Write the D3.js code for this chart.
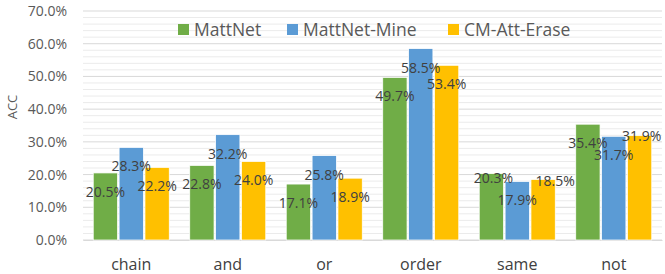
<!DOCTYPE html>
<html>
<head>
<meta charset="utf-8">
<script src="https://cdn.jsdelivr.net/npm/d3@7"></script>
<style>
  body { margin: 0; background: #fff; }
  svg { display: block; font-family: "Open Sans", "Noto Sans", sans-serif; }
</style>
</head>
<body>
<svg id="chart" width="665" height="274"></svg>
<script>
const categories = ["chain", "and", "or", "order", "same", "not"];
const seriesNames = ["MattNet", "MattNet-Mine", "CM-Att-Erase"];
const mattnet = [20.5, 22.8, 17.1, 49.7, 20.3, 35.4];
const mattnetMine = [28.3, 32.2, 25.8, 58.5, 17.9, 31.7];
const cmAttErase = [22.2, 24.0, 18.9, 53.4, 18.5, 31.9];
const yTicks = [0, 10, 20, 30, 40, 50, 60, 70];
const colors = ["#70ad47", "#5b9bd5", "#ffc000"];

const series = [mattnet, mattnetMine, cmAttErase];

function drawChart() {
    const margin = {top: 11, right: 3, bottom: 34, left: 83};
    const svgEl = d3.select("#chart");
    const width = 665 - margin.left - margin.right;
    const height = 274 - margin.top - margin.bottom;

    // a few labels were dragged by hand in the original
    const labelNudge = {
        "same|MattNet": [2, -15],
        "same|CM-Att-Erase": [12, -17],
        "not|CM-Att-Erase": [2, -19]
    };

    const svg = svgEl.append("g")
        .attr("transform", `translate(${margin.left},${margin.top})`);

    const y = d3.scaleLinear().domain([0, 70]).range([height, 0]);

    const x0 = d3.scaleBand()
        .domain(categories)
        .range([0, width])
        .paddingInner(0.18)
        .paddingOuter(0.09);

    const x1 = d3.scaleBand()
        .domain(seriesNames)
        .range([0, x0.bandwidth()])
        .padding(0.06);

    // minor grid every 2%
    svg.append("g")
        .selectAll("line")
        .data(d3.range(0, 71, 2).filter(v => v % 10 !== 0))
        .join("line")
        .attr("x1", 0).attr("x2", width)
        .attr("y1", d => y(d)).attr("y2", d => y(d))
        .attr("stroke", "#ebebeb")
        .attr("stroke-width", 1);

    // major grid
    svg.append("g")
        .selectAll("line")
        .data(yTicks)
        .join("line")
        .attr("x1", 0).attr("x2", width)
        .attr("y1", d => y(d)).attr("y2", d => y(d))
        .attr("stroke", "#d9d9d9")
        .attr("stroke-width", 1);

    const yAxis = svg.append("g")
        .call(d3.axisLeft(y).tickValues(yTicks).tickSize(0).tickPadding(16).tickFormat(d => d.toFixed(1) + "%"));
    yAxis.select(".domain").remove();
    yAxis.selectAll("text")
        .attr("fill", "#595959")
        .style("font-size", "14px")
        .style("font-family", "'Open Sans', sans-serif");

    const xAxis = svg.append("g")
        .attr("transform", `translate(0,${height})`)
        .call(d3.axisBottom(x0).tickSize(0).tickPadding(19));
    xAxis.select(".domain").attr("stroke", "#d9d9d9");
    xAxis.selectAll("text")
        .attr("fill", "#404040")
        .style("font-size", "16px")
        .style("font-family", "'Open Sans', sans-serif");

    svg.append("text")
        .attr("transform", "rotate(-90)")
        .attr("x", -96)
        .attr("y", -66)
        .attr("text-anchor", "middle")
        .attr("fill", "#595959")
        .style("font-size", "13px")
        .text("ACC");

    const groups = svg.append("g")
        .selectAll("g")
        .data(categories)
        .join("g")
        .attr("transform", d => `translate(${x0(d)},0)`);

    groups.selectAll("rect")
        .data((c, i) => seriesNames.map((s, j) => ({c, s, j, v: series[j][i]})))
        .join("rect")
        .attr("x", d => x1(d.s))
        .attr("y", d => y(d.v))
        .attr("width", x1.bandwidth())
        .attr("height", d => height - y(d.v))
        .attr("fill", d => colors[d.j])
        .attr("stroke", "#ffffff")
        .attr("stroke-width", 0.75);

    groups.selectAll("text.lbl")
        .data((c, i) => seriesNames.map((s, j) => ({c, s, j, v: series[j][i]})))
        .join("text")
        .attr("class", "lbl")
        .attr("x", d => x1(d.s) + x1.bandwidth() / 2 + (labelNudge[d.c + "|" + d.s] || [0, 0])[0])
        .attr("y", d => y(d.v) + 24 + (labelNudge[d.c + "|" + d.s] || [0, 0])[1])
        .attr("text-anchor", "middle")
        .attr("fill", "#404040")
        .style("font-size", "14px")
        .text(d => d.v.toFixed(1) + "%");

    // legend
    const legendX = [178, 287, 448];
    const legend = svgEl.append("g")
        .selectAll("g")
        .data(seriesNames)
        .join("g")
        .attr("transform", (d, i) => `translate(${legendX[i]},24)`);

    legend.append("rect")
        .attr("width", 11).attr("height", 11)
        .attr("fill", (d, i) => colors[i]);

    legend.append("text")
        .attr("x", 16)
        .attr("y", 11.5)
        .attr("fill", "#595959")
        .style("font-size", "17.5px")
        .text(d => d);
}

drawChart();
</script>
</body>
</html>
